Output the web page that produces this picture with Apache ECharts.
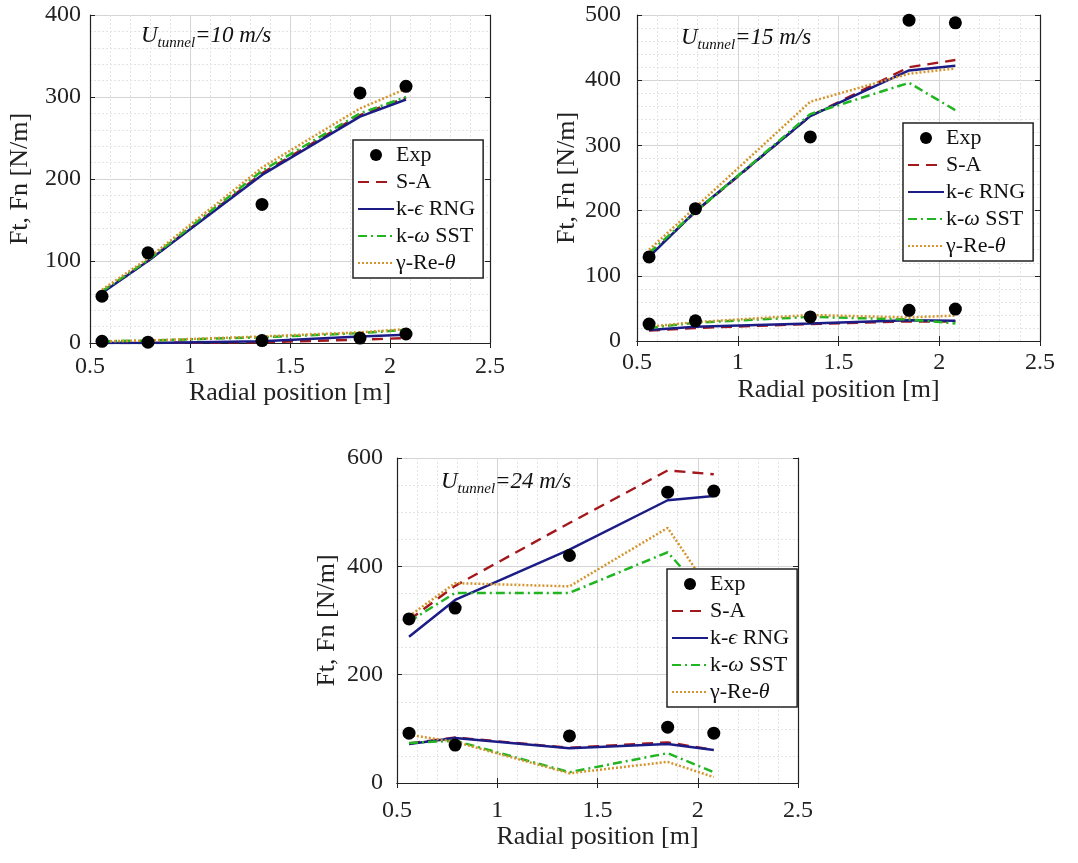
<!DOCTYPE html>
<html>
<head>
<meta charset="utf-8">
<script src="https://cdn.jsdelivr.net/npm/echarts@6.0.0/dist/echarts.min.js"></script>
<style>
  html, body { margin: 0; padding: 0; background: #fff; }
  #chart { width: 1078px; height: 863px; }
</style>
</head>
<body>
<div id="chart"></div>
<script>
// radial positions of the stations
const radial = [0.56, 0.79, 1.36, 1.85, 2.08];

// U tunnel = 10 m/s
const exp10Ft = [57, 110, 169, 305, 313];
const exp10Fn = [2, 1, 3, 6, 11];
const sa10Ft = [62, 100, 207, 278, 299];
const sa10Fn = [0, 0, 1, 4, 6];
const rng10Ft = [61, 100, 205, 276, 297];
const rng10Fn = [0, 0, 2, 8, 10];
const sst10Ft = [63, 101, 210, 280, 300];
const sst10Fn = [2, 3, 7, 12, 16];
const gre10Ft = [65, 103, 214, 286, 310];
const gre10Fn = [2, 3, 8, 13, 17];

// U tunnel = 15 m/s
const exp15Ft = [129, 203, 313, 492, 488];
const exp15Fn = [26, 31, 37, 47, 49];
const sa15Ft = [131, 198, 345, 420, 431];
const sa15Fn = [16, 20, 26, 30, 30];
const rng15Ft = [129, 199, 345, 415, 422];
const rng15Fn = [17, 22, 27, 32, 31];
const sst15Ft = [135, 198, 348, 396, 354];
const sst15Fn = [20, 28, 37, 33, 27];
const gre15Ft = [140, 205, 367, 410, 418];
const gre15Fn = [22, 29, 40, 36, 39];

// U tunnel = 24 m/s
const exp24Ft = [303, 323, 420, 537, 539];
const exp24Fn = [92, 70, 87, 103, 92];
const sa24Ft = [301, 364, 480, 577, 570];
const sa24Fn = [73, 84, 65, 75, 61];
const rng24Ft = [270, 338, 431, 522, 530];
const rng24Fn = [72, 83, 64, 72, 61];
const sst24Ft = [298, 351, 351, 426, 330];
const sst24Fn = [74, 78, 20, 55, 20];
const gre24Ft = [308, 369, 363, 471, 345];
const gre24Fn = [89, 76, 18, 39, 11];

const yMax = [400, 500, 600];
const yStep = [100, 100, 200];
const yMinor = [5, 5, 4];
const speeds = ['10', '15', '24'];

const FONT = '"Liberation Serif", "Times New Roman", serif';
const models = [
  { name: 'S-A', color: '#a3181d', type: [11, 7], width: 2.4 },
  { name: 'k-ϵ RNG', color: '#1c1c86', type: 'solid', width: 2.5 },
  { name: 'k-ω SST', color: '#22b522', type: [9, 4, 2, 4], width: 2.5 },
  { name: 'γ-Re-θ', color: '#d4952e', type: [2, 2], width: 2.5 }
];
const caseData = [
  { exp: [exp10Ft, exp10Fn], m: [[sa10Ft, sa10Fn], [rng10Ft, rng10Fn], [sst10Ft, sst10Fn], [gre10Ft, gre10Fn]] },
  { exp: [exp15Ft, exp15Fn], m: [[sa15Ft, sa15Fn], [rng15Ft, rng15Fn], [sst15Ft, sst15Fn], [gre15Ft, gre15Fn]] },
  { exp: [exp24Ft, exp24Fn], m: [[sa24Ft, sa24Fn], [rng24Ft, rng24Fn], [sst24Ft, sst24Fn], [gre24Ft, gre24Fn]] }
];

const grids = [
  { left: 90, top: 15, width: 400, height: 328 },
  { left: 637, top: 15, width: 403, height: 326 },
  { left: 397, top: 458, width: 401, height: 325 }
];
const legendPos = [
  { left: 353, top: 140 },
  { left: 903, top: 123 },
  { left: 667, top: 569 }
];
const titlePos = [
  { left: 136, top: 16 },
  { left: 676, top: 18 },
  { left: 436, top: 462 }
];
const yLabelMargin = [9, 16, 14];
const xLabelMargin = [12, 10, 16];
const xNameGap = [34, 36, 38];

const pair = (xs, ys) => xs.map((x, i) => [x, ys[i]]);

const xAxis = [], yAxis = [], series = [], legend = [], title = [];

grids.forEach((g, k) => {
  xAxis.push({
    type: 'value', gridIndex: k, min: 0.5, max: 2.5, interval: 0.5,
    name: 'Radial position [m]', nameLocation: 'middle', nameGap: xNameGap[k],
    nameTextStyle: { fontFamily: FONT, fontSize: 26, color: '#222' },
    axisLine: { lineStyle: { color: '#222', width: 1.2 } },
    axisTick: { inside: true, length: 5, lineStyle: { color: '#222' } },
    axisLabel: { fontFamily: FONT, fontSize: 24, color: '#222', margin: xLabelMargin[k] },
    splitLine: { show: true, lineStyle: { color: '#d4d4d4', width: 1 } },
    minorTick: { show: false, splitNumber: 5 },
    minorSplitLine: { show: true, lineStyle: { color: '#e4e4e4', type: [2, 2] } }
  });
  yAxis.push({
    type: 'value', gridIndex: k, min: 0, max: yMax[k], interval: yStep[k],
    name: 'Ft, Fn [N/m]', nameLocation: 'middle', nameGap: 57,
    nameTextStyle: { fontFamily: FONT, fontSize: 26, color: '#222' },
    axisLine: { show: true, lineStyle: { color: '#222', width: 1.2 } },
    axisTick: { show: true, inside: true, length: 5, lineStyle: { color: '#222' } },
    axisLabel: { fontFamily: FONT, fontSize: 24, color: '#222', margin: yLabelMargin[k] },
    splitLine: { show: true, lineStyle: { color: '#d4d4d4', width: 1 } },
    minorTick: { show: false, splitNumber: yMinor[k] },
    minorSplitLine: { show: true, lineStyle: { color: '#e4e4e4', type: [2, 2] } }
  });
});
// box: top and right axes with inward ticks only
grids.forEach((g, k) => {
  xAxis.push({
    type: 'value', gridIndex: k, position: 'top', min: 0.5, max: 2.5, interval: 0.5,
    axisLine: { lineStyle: { color: '#222', width: 1.2 } },
    axisTick: { inside: true, length: 5, lineStyle: { color: '#222' } },
    axisLabel: { show: false }, splitLine: { show: false }
  });
  yAxis.push({
    type: 'value', gridIndex: k, position: 'right', min: 0, max: yMax[k], interval: yStep[k],
    axisLine: { show: true, lineStyle: { color: '#222', width: 1.2 } },
    axisTick: { show: true, inside: true, length: 5, lineStyle: { color: '#222' } },
    axisLabel: { show: false }, splitLine: { show: false }
  });
});

caseData.forEach((c, k) => {
  models.forEach((m, j) => {
    c.m[j].forEach(vals => {
      series.push({
        name: m.name, type: 'line', xAxisIndex: k, yAxisIndex: k,
        data: pair(radial, vals), symbol: 'none', z: 2 + j,
        color: m.color,
        lineStyle: { color: m.color, width: m.width, type: m.type }
      });
    });
  });
  series.push({
    name: 'Exp', type: 'scatter', xAxisIndex: k, yAxisIndex: k, z: 10,
    data: pair(radial, c.exp[0]).concat(pair(radial, c.exp[1])),
    symbol: 'circle', symbolSize: 13, itemStyle: { color: '#000', opacity: 1 }
  });

  legend.push({
    orient: 'vertical', left: legendPos[k].left, top: legendPos[k].top,
    data: [{ name: 'Exp', icon: 'circle', itemStyle: { color: '#000', opacity: 1 } }]
      .concat(models.map(m => ({ name: m.name, itemStyle: { opacity: 0 } }))),
    backgroundColor: '#fff', borderColor: '#222', borderWidth: 1.5, borderRadius: 0,
    padding: [4, 8, 4, 4], itemWidth: 36, itemHeight: 12, itemGap: 5,
    selectedMode: false, z: 20,
    formatter: name => name.replace(/([ϵωθ])/g, '{i|$1}'),
    textStyle: {
      fontFamily: FONT, fontSize: 22, color: '#111', padding: [0, 0, 0, -3],
      rich: { i: { fontFamily: FONT, fontSize: 22, fontStyle: 'italic', color: '#111' } }
    }
  });

  title.push({
    left: titlePos[k].left, top: titlePos[k].top,
    text: '{u|U}{s|tunnel}{r|=' + speeds[k] + ' m/s}',
    textStyle: {
      fontWeight: 'normal',
      rich: {
        u: { fontFamily: FONT, fontSize: 23, fontStyle: 'italic', fontWeight: 'normal', color: '#111', lineHeight: 30 },
        s: { fontFamily: FONT, fontSize: 15, fontStyle: 'italic', fontWeight: 'normal', color: '#111', lineHeight: 15, verticalAlign: 'bottom' },
        r: { fontFamily: FONT, fontSize: 23, fontStyle: 'italic', fontWeight: 'normal', color: '#111', lineHeight: 30 }
      }
    }
  });
});

const chart = echarts.init(document.getElementById('chart'), null, { renderer: 'canvas' });
chart.setOption({
  backgroundColor: '#fff',
  animation: false,
  title: title,
  legend: legend,
  grid: grids.map(g => Object.assign({ containLabel: false, show: false }, g)),
  xAxis: xAxis,
  yAxis: yAxis,
  series: series
});
</script>
</body>
</html>
